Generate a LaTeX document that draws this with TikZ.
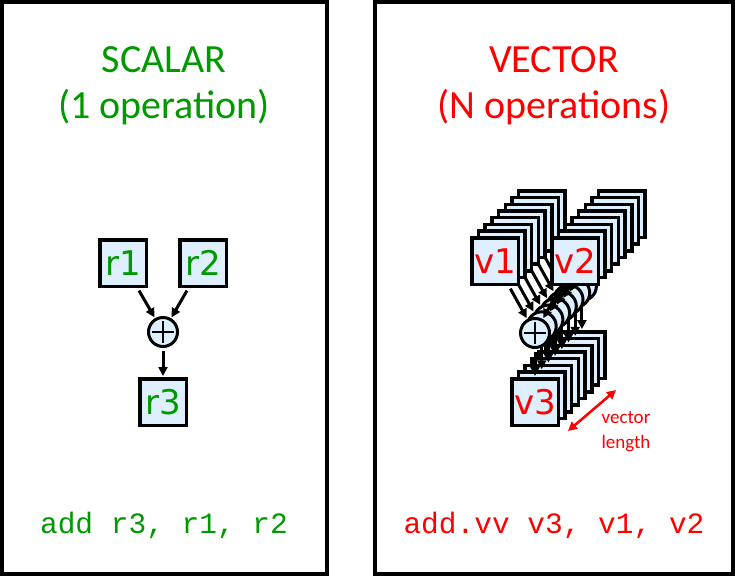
\documentclass[tikz,border=0pt]{standalone}
\usepackage{fontspec}
\setmainfont{Carlito}
\newfontfamily\codefont{Liberation Mono}
\newfontfamily\labfont{DejaVu Sans}
\usetikzlibrary{arrows.meta}
\definecolor{boxfill}{RGB}{222,240,255}
\definecolor{sgreen}{RGB}{0,153,0}
\definecolor{vred}{RGB}{255,0,0}
\tikzset{
 reg/.style={draw=black, line width=3.5pt, fill=boxfill, minimum width=46.5pt, minimum height=46.5pt, inner sep=0pt, font=\labfont\fontsize{34}{38}\selectfont},
 adder/.style={circle, draw=black, line width=3pt, fill=boxfill, minimum size=29pt, inner sep=0pt},
 plus/.style={path picture={\draw[line width=2.5pt] ([xshift=-11pt]path picture bounding box.center) -- ([xshift=11pt]path picture bounding box.center) ([yshift=-11pt]path picture bounding box.center) -- ([yshift=11pt]path picture bounding box.center);}},
 flow/.style={line width=3pt, -{Triangle[length=9pt,width=9pt]}, shorten <=3pt, shorten >=1pt},
 panel/.style={draw=black, line width=4pt},
 title/.style={font=\fontsize{40}{48}\selectfont, anchor=base},
 code/.style={font=\codefont\fontsize{29.5}{34}\selectfont, anchor=base},
}
\begin{document}
\begin{tikzpicture}[x=1pt,y=-1pt]
\useasboundingbox (0,0) rectangle (735,576);
\draw[panel] (2,2) rectangle (327,574);
\draw[panel] (375,2) rectangle (733,574);
% titles
\node[title, text=sgreen] (stitle) at (164,72) {SCALAR};
\node[title, text=sgreen] (sops) at (164,118) {(1 operation)};
\node[title, text=vred] (vtitle) at (554,72) {VECTOR};
\node[title, text=vred] (vops) at (554,118) {(N operations)};
% scalar
\node[reg, text=sgreen] (r1) at (123,263) {r1};
\node[reg, text=sgreen] (r2) at (203,263) {r2};
\node[adder, plus] (sc) at (163,332) {};
\node[reg, text=sgreen] (r3) at (163,402) {r3};
\draw[flow] (r1) -- (sc);
\draw[flow] (r2) -- (sc);
\draw[flow] (sc) -- (r3);
% vector back layers
\foreach \i in {7,6,...,1}{
  \begin{scope}[shift={(6.7*\i,-6.7*\i)}]
   \node[reg] (v1-\i) at (495,261) {};
   \node[reg] (v2-\i) at (575,261) {};
   \node[reg] (v3-\i) at (535,402) {};
   \node[adder] (add-\i) at (535,333) {};
   \draw[flow] (v1-\i) -- (add-\i);
   \draw[flow] (v2-\i) -- (add-\i);
   \draw[flow] (add-\i) -- (v3-\i);
  \end{scope}
}
% vector front layer
\node[reg, text=vred] (v1) at (495,261) {v1};
\node[reg, text=vred] (v2) at (575,261) {v2};
\node[reg, text=vred] (v3) at (535,402) {v3};
\node[adder, plus] (vc) at (535,333) {};
\draw[flow] (v1) -- (vc);
\draw[flow] (v2) -- (vc);
\draw[flow] (vc) -- (v3);
% vector length
\coordinate (vl1) at (568,431);
\coordinate (vl2) at (616,390);
\draw[vred, line width=2.5pt, {Triangle[length=9pt,width=9pt]}-{Triangle[length=9pt,width=9pt]}] (vl1) -- (vl2);
\node[text=vred, font=\fontsize{19}{25}\selectfont, align=center] (vlen) at (626,432) {vector\\length};
% code
\node[code, text=sgreen] (scode) at (164,533) {add r3, r1, r2};
\node[code, text=vred] (vcode) at (554,533) {add.vv v3, v1, v2};
\end{tikzpicture}
\end{document}
